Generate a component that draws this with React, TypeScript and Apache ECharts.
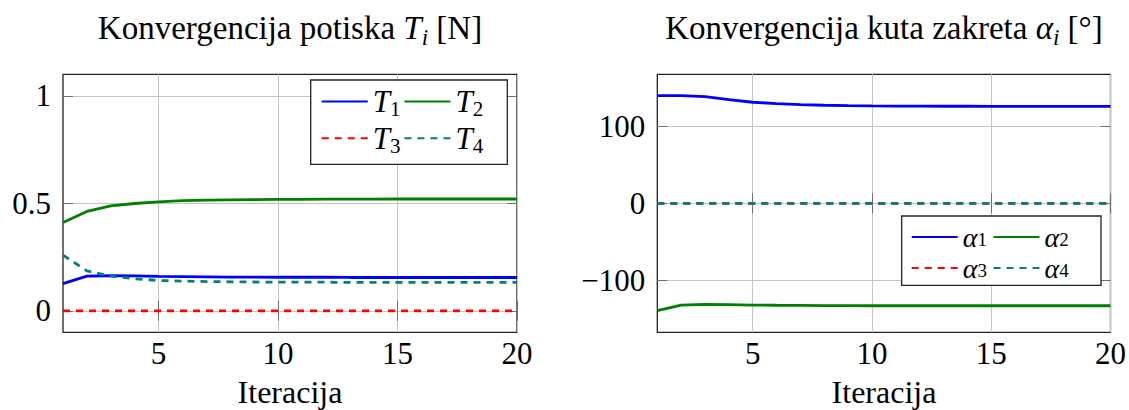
import React, { useEffect, useRef } from 'react';
import * as echarts from 'echarts';

const iterations = [1, 2, 3, 4, 5, 6, 7, 8, 9, 10, 11, 12, 13, 14, 15, 16, 17, 18, 19, 20];
const xTicks = [5, 10, 15, 20];
const thrustTicks = [0, 0.5, 1];
const angleTicks = [-100, 0, 100];

const thrustT1 = [0.126, 0.161, 0.163, 0.162, 0.160, 0.159, 0.158, 0.157, 0.157, 0.156, 0.156, 0.156, 0.155, 0.155, 0.155, 0.155, 0.155, 0.155, 0.155, 0.155];
const thrustT2 = [0.411, 0.462, 0.488, 0.499, 0.507, 0.512, 0.515, 0.516, 0.517, 0.518, 0.518, 0.519, 0.519, 0.519, 0.52, 0.52, 0.52, 0.52, 0.52, 0.52];
const thrustT3 = [0, 0, 0, 0, 0, 0, 0, 0, 0, 0, 0, 0, 0, 0, 0, 0, 0, 0, 0, 0];
const thrustT4 = [0.259, 0.186, 0.161, 0.149, 0.141, 0.138, 0.136, 0.135, 0.134, 0.133, 0.133, 0.133, 0.132, 0.132, 0.132, 0.132, 0.132, 0.132, 0.132, 0.132];

const angleA1 = [140.3, 140.3, 139.0, 135.0, 131.6, 129.9, 128.6, 127.7, 127.2, 126.8, 126.6, 126.5, 126.4, 126.4, 126.3, 126.3, 126.3, 126.3, 126.3, 126.3];
const angleA2 = [-139.9, -132.5, -131.7, -132.0, -132.5, -132.8, -133.0, -133.2, -133.3, -133.4, -133.4, -133.4, -133.4, -133.4, -133.4, -133.4, -133.4, -133.4, -133.4, -133.4];
const angleA3 = [0, 0, 0, 0, 0, 0, 0, 0, 0, 0, 0, 0, 0, 0, 0, 0, 0, 0, 0, 0];
const angleA4 = [0, 0, 0, 0, 0, 0, 0, 0, 0, 0, 0, 0, 0, 0, 0, 0, 0, 0, 0, 0];

const FONT = 'Liberation Serif';
const BLUE = '#0000ff';
const GREEN = '#008000';
const RED = '#ff0000';
const TEAL = '#008080';

const pairs = (ys: number[]) => iterations.map((x, i) => [x, ys[i]]);

const tickStyle = { show: true, inside: true, length: 10, lineStyle: { color: '#707070', width: 1 } };

function xAxisFor(gridIndex: number, position: 'bottom' | 'top', main: boolean) {
  return {
    type: 'value',
    gridIndex,
    position,
    min: 1,
    max: 20,
    axisLine: { show: false },
    axisTick: { ...tickStyle, customValues: xTicks },
    axisLabel: main
      ? {
          show: true,
          customValues: xTicks,
          margin: 21,
          verticalAlign: 'middle',
          fontFamily: FONT,
          fontSize: 31,
          color: '#000',
        }
      : { show: false },
    splitLine: main ? { show: true, lineStyle: { color: '#c4c4c4', width: 1 } } : { show: false },
  };
}

function yAxisFor(
  gridIndex: number,
  position: 'left' | 'right',
  main: boolean,
  min: number,
  max: number,
  ticks: number[],
  fmt: (v: number) => string
) {
  return {
    type: 'value',
    gridIndex,
    position,
    min,
    max,
    axisLine: { show: false },
    axisTick: { ...tickStyle, customValues: ticks },
    axisLabel: main
      ? {
          show: true,
          customValues: ticks,
          margin: 12,
          fontFamily: FONT,
          fontSize: 31,
          color: '#000',
          formatter: fmt,
        }
      : { show: false },
    splitLine: main ? { show: true, lineStyle: { color: '#c4c4c4', width: 1 } } : { show: false },
  };
}

function legendRich(size: number, lineHeight: number, subSize: number, subLineHeight: number) {
  return {
    m: { fontFamily: FONT, fontStyle: 'italic', fontSize: size, lineHeight, color: '#000' },
    s: { fontFamily: FONT, fontSize: subSize, lineHeight: subLineHeight, verticalAlign: 'bottom', color: '#000' },
  };
}

function legendFor(names: string[], left: number, top: number, gap: number, rich: object) {
  return {
    data: names,
    left,
    top,
    orient: 'horizontal',
    padding: 0,
    itemWidth: 46,
    itemHeight: 14,
    itemGap: gap,
    selectedMode: false,
    itemStyle: { color: 'transparent', borderWidth: 0, opacity: 0 },
    formatter: (name: string) => `{m|${name.slice(0, 1)}}{s|${name.slice(1)}}`,
    textStyle: { width: 36, fontFamily: FONT, rich },
  };
}

function lineSeries(name: string, ys: number[], color: string, dashed: boolean, axisIdx: number) {
  return {
    type: 'line',
    name,
    data: pairs(ys),
    xAxisIndex: axisIdx,
    yAxisIndex: axisIdx,
    symbol: 'none',
    showSymbol: false,
    lineStyle: { color, width: 2.8, type: dashed ? [7, 6] : 'solid' },
    itemStyle: { color },
    z: 3,
  };
}

const titleRich = {
  m: { fontFamily: FONT, fontStyle: 'italic', fontSize: 33, lineHeight: 42, color: '#000' },
  s: { fontFamily: FONT, fontStyle: 'italic', fontSize: 23, lineHeight: 25, verticalAlign: 'bottom', color: '#000' },
};

export default function App() {
  const ref = useRef<HTMLDivElement>(null);

  useEffect(() => {
    if (!ref.current) return;
    const chart = echarts.init(ref.current, null, { renderer: 'svg' });
    const minus = (v: number) => (v < 0 ? '\u2212' + Math.abs(v) : String(v));
    const thrustRich = legendRich(31, 36, 21, 16);
    const angleRich = legendRich(28, 24, 19, 13);
    const option = {
      animation: false,
      backgroundColor: '#fff',
      textStyle: { fontFamily: FONT },
      grid: [
        { left: 63, top: 74.3, width: 454, height: 258, show: true, borderColor: '#222', borderWidth: 1.3, backgroundColor: 'transparent' },
        { left: 657.3, top: 74.3, width: 453.4, height: 258, show: true, borderColor: '#222', borderWidth: 1.3, backgroundColor: 'transparent' },
      ],
      xAxis: [
        xAxisFor(0, 'bottom', true),
        xAxisFor(0, 'top', false),
        xAxisFor(1, 'bottom', true),
        xAxisFor(1, 'top', false),
      ],
      yAxis: [
        yAxisFor(0, 'left', true, -0.1, 1.1, thrustTicks, (v) => String(v)),
        yAxisFor(0, 'right', false, -0.1, 1.1, thrustTicks, (v) => String(v)),
        yAxisFor(1, 'left', true, -168, 168, angleTicks, minus),
        yAxisFor(1, 'right', false, -168, 168, angleTicks, minus),
      ],
      legend: [
        legendFor(['T1', 'T2'], 320.7, 86, 3, thrustRich),
        legendFor(['T3', 'T4'], 320.7, 122.7, 3, thrustRich),
        legendFor(['\u03b11', '\u03b12'], 910.7, 223, 5.6, angleRich),
        legendFor(['\u03b13', '\u03b14'], 910.7, 254, 5.6, angleRich),
      ],
      graphic: [
        {
          type: 'rect',
          z: 3.5,
          shape: { x: 310.7, y: 80, width: 196.6, height: 84.3 },
          style: { fill: '#fff', stroke: '#222', lineWidth: 1.3 },
        },
        {
          type: 'rect',
          z: 3.5,
          shape: { x: 901.7, y: 216, width: 199.3, height: 69.3 },
          style: { fill: '#fff', stroke: '#222', lineWidth: 1.3 },
        },
        {
          type: 'text',
          x: 290,
          y: 28,
          style: {
            text: 'Konvergencija potiska {m|T}{s|i} [N]',
            fontFamily: FONT,
            fontSize: 33,
            lineHeight: 42,
            fill: '#000',
            align: 'center',
            verticalAlign: 'middle',
            rich: titleRich,
          },
        },
        {
          type: 'text',
          x: 884,
          y: 28,
          style: {
            text: 'Konvergencija kuta zakreta {m|\u03b1}{s|i} [\u00b0]',
            fontFamily: FONT,
            fontSize: 33,
            lineHeight: 42,
            fill: '#000',
            align: 'center',
            verticalAlign: 'middle',
            rich: titleRich,
          },
        },
        {
          type: 'text',
          x: 290,
          y: 392,
          style: { text: 'Iteracija', fontFamily: FONT, fontSize: 32, lineHeight: 30, fill: '#000', align: 'center', verticalAlign: 'middle' },
        },
        {
          type: 'text',
          x: 884,
          y: 392,
          style: { text: 'Iteracija', fontFamily: FONT, fontSize: 32, lineHeight: 30, fill: '#000', align: 'center', verticalAlign: 'middle' },
        },
      ],
      series: [
        lineSeries('T1', thrustT1, BLUE, false, 0),
        lineSeries('T2', thrustT2, GREEN, false, 0),
        lineSeries('T3', thrustT3, RED, true, 0),
        lineSeries('T4', thrustT4, TEAL, true, 0),
        lineSeries('\u03b11', angleA1, BLUE, false, 2),
        lineSeries('\u03b12', angleA2, GREEN, false, 2),
        lineSeries('\u03b13', angleA3, RED, true, 2),
        lineSeries('\u03b14', angleA4, TEAL, true, 2),
      ],
    };
    chart.setOption(option as any);
    return () => chart.dispose();
  }, []);

  return <div ref={ref} style={{ position: 'fixed', left: 0, top: 0, width: 1129, height: 410 }} />;
}
